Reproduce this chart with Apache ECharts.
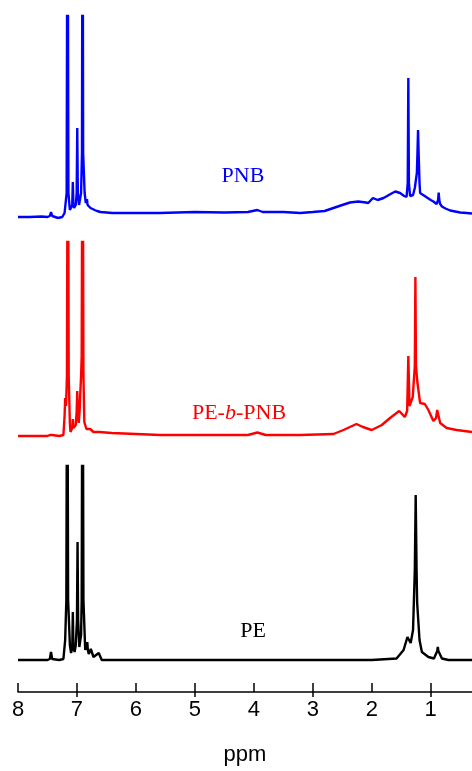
<!DOCTYPE html>
<html>
<head>
<meta charset="utf-8">
<script src="https://cdn.jsdelivr.net/npm/echarts@6/dist/echarts.min.js"></script>
<style>html,body{margin:0;padding:0;background:#fff;}#chart{width:472px;height:771px;}</style>
</head>
<body>
<div id="chart"></div>
<script>
// ppm positions and intensities (arbitrary units, baseline = 0)
var pnbPpm = [8.00,7.80,7.60,7.50,7.46,7.44,7.42,7.32,7.25,7.21,7.175,7.16,7.145,7.12,7.10,7.08,7.07,7.06,7.05,7.02,7.005,6.995,6.985,6.965,6.93,6.915,6.905,6.895,6.87,6.85,6.84,6.83,6.82,6.80,6.79,6.77,6.70,6.66,6.63,6.60,6.40,6.00,5.60,5.00,4.50,4.10,3.94,3.85,3.50,3.21,3.00,2.80,2.65,2.50,2.37,2.23,2.10,2.06,1.98,1.90,1.80,1.74,1.65,1.60,1.52,1.45,1.41,1.39,1.38,1.37,1.35,1.33,1.30,1.27,1.235,1.225,1.215,1.205,1.19,1.18,1.09,1.00,0.955,0.90,0.875,0.865,0.855,0.84,0.81,0.75,0.67,0.50,0.39,0.30];
var pnbInt = [-4,-4,-3.5,-4,-3,1,-3,-5,-4,0,20,400,20,3,3,8,31,8,5,8,20,85,20,8,20,60,400,60,20,10,8,14,8,6,9,5,3,2,4,1,0,0,0,1,0.5,1,3,1,1,0,1,2,5,8,10.5,11.5,10.5,10,15,13,15,17,20,21.5,20,17,16,30,135,30,17,16.5,18,25,40,60,83,60,30,20,16.5,13,11.5,9,13,20.5,13,9,6.5,4.5,2.5,0.5,0,-0.5];

var pebPpm = [8.00,7.70,7.50,7.46,7.44,7.42,7.30,7.23,7.21,7.20,7.185,7.17,7.155,7.14,7.12,7.11,7.08,7.07,7.06,7.04,7.02,7.005,6.995,6.985,6.97,6.955,6.945,6.93,6.92,6.905,6.89,6.875,6.84,6.82,6.775,6.72,6.62,6.41,5.59,4.50,4.10,3.94,3.80,3.21,2.65,2.48,2.26,2.15,2.00,1.83,1.69,1.535,1.44,1.40,1.38,1.36,1.34,1.305,1.27,1.26,1.25,1.225,1.18,1.10,1.04,0.955,0.91,0.89,0.84,0.73,0.56,0.30];
var pebInt = [0,0,0,1,3,1,0,1,20,38,30,60,400,60,12,4,8,17,8,7,11,25,45,25,13,25,41,60,80,400,60,14,7,9,7,4,4,3,1,1,1,3.5,1,1,2,6,12,9,6,11,18,25,19,25,80,30,29,39,70,159,70,53,33,32,26,15,18,26,13,8,6,4];

var pePpm = [8.00,7.70,7.50,7.46,7.44,7.42,7.30,7.23,7.20,7.18,7.165,7.15,7.12,7.10,7.08,7.07,7.06,7.04,7.02,7.00,6.99,6.98,6.96,6.93,6.92,6.905,6.89,6.86,6.835,6.825,6.815,6.80,6.765,6.72,6.63,6.58,6.00,5.00,4.00,3.00,2.00,1.58,1.46,1.395,1.34,1.30,1.27,1.255,1.24,1.23,1.19,1.15,1.04,0.945,0.89,0.88,0.87,0.81,0.70,0.50,0.30];
var peInt = [0,0,0,1,8,1,0,1,20,60,400,60,15,7,12,48,12,8,15,40,118,40,13,25,60,400,60,10,12,18,10,6,11,3,7,0,0,0,0,0,0,1.5,10,23,17,30,90,165,90,57,20,8,3,1.5,9,13,9,1.5,0,0,0];

var xTicks = [8,7,6,5,4,3,2,1];
var labels = ["PNB", "PE-b-PNB", "PE"];

function pairs(xs, ys){ return xs.map(function(x,i){ return [x, ys[i]]; }); }

var chart = echarts.init(document.getElementById('chart'));
var hiddenX = function(idx){ return {gridIndex: idx, type:'value', min:0.3, max:8, inverse:true, show:false}; };
var hiddenY = function(idx, min, max){ return {gridIndex: idx, type:'value', min:min, max:max, show:false}; };
var fontSans = 'Liberation Sans, Arial, sans-serif';
var fontSerif = '"Liberation Serif", "Times New Roman", serif';

chart.setOption({
  animation: false,
  backgroundColor: '#fff',
  grid: [
    {left:18, right:0, top:16, height:202},
    {left:18, right:0, top:242, height:199},
    {left:18, right:0, top:466, height:226}
  ],
  xAxis: [
    hiddenX(0), hiddenX(1),
    {gridIndex:2, type:'value', min:0.3, max:8, inverse:true, position:'bottom',
     axisLine:{show:true, onZero:false, lineStyle:{color:'#000', width:1.5}},
     axisTick:{show:true, inside:true, length:9, customValues: xTicks, lineStyle:{color:'#000', width:1.5}},
     minorTick:{show:true, splitNumber:2, length:-5, lineStyle:{color:'#000', width:1.5}},
     splitLine:{show:false},
     axisLabel:{show:true, customValues: xTicks, color:'#000', fontSize:22, fontFamily:fontSans, margin:7},
     name:'ppm', nameLocation:'middle', nameGap:52,
     nameTextStyle:{color:'#000', fontSize:22, fontFamily:fontSans}}
  ],
  yAxis: [hiddenY(0,-5,197), hiddenY(1,-5,194), hiddenY(2,-32,194)],
  series: [
    {type:'line', xAxisIndex:0, yAxisIndex:0, data:pairs(pnbPpm,pnbInt), showSymbol:false, clip:true,
     lineStyle:{color:'#0000ff', width:2.4}, itemStyle:{color:'#0000ff'}},
    {type:'line', xAxisIndex:1, yAxisIndex:1, data:pairs(pebPpm,pebInt), showSymbol:false, clip:true,
     lineStyle:{color:'#ff0000', width:2.4}, itemStyle:{color:'#ff0000'}},
    {type:'line', xAxisIndex:2, yAxisIndex:2, data:pairs(pePpm,peInt), showSymbol:false, clip:true,
     lineStyle:{color:'#000000', width:2.4}, itemStyle:{color:'#000'}}
  ],
  graphic: [
    {type:'text', x:243, y:176, style:{text:labels[0], fill:'#0000ff', font:'22px ' + fontSerif, align:'center', verticalAlign:'middle'}},
    {type:'text', x:239, y:413, style:{text:'{n|PE-}{i|b}{n|-PNB}', align:'center', verticalAlign:'middle',
      rich:{n:{fill:'#ff0000', color:'#ff0000', fontSize:22, fontFamily:fontSerif},
            i:{fill:'#ff0000', color:'#ff0000', fontSize:22, fontStyle:'italic', fontFamily:fontSerif}}}},
    {type:'text', x:253, y:631, style:{text:labels[2], fill:'#000', font:'22px ' + fontSerif, align:'center', verticalAlign:'middle'}}
  ]
});
</script>
</body>
</html>
